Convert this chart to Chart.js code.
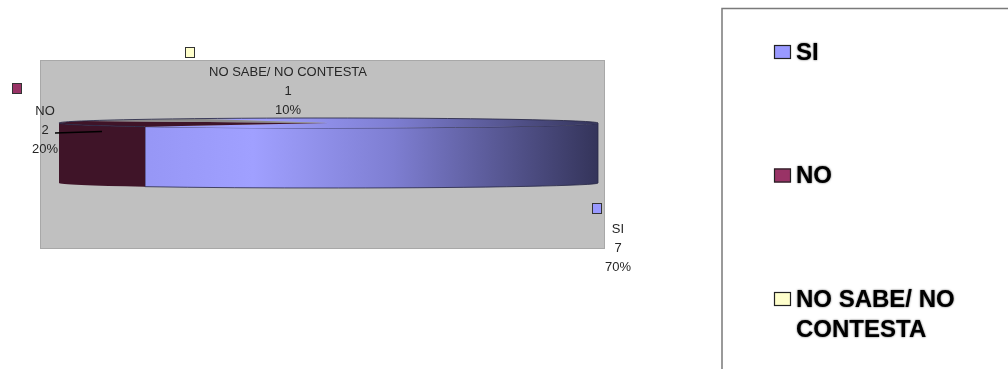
<!DOCTYPE html>
<html>
<head>
<meta charset="utf-8">
<script src="https://cdn.jsdelivr.net/npm/chart.js@4/dist/chart.umd.min.js"></script>
<style>
  html, body { margin: 0; padding: 0; background: #fff; }
  canvas { display: block; }
</style>
</head>
<body>
<canvas id="respuestasChart" width="1008" height="369"></canvas>
<script>
'use strict';

const categories = ['SI', 'NO', 'NO SABE/ NO CONTESTA'];
const answerCounts = [7, 2, 1];
const sliceColors = ['#9999ff', '#993366', '#ffffcc'];

// edge-on 3D pie, geometry of the flattened cylinder
const pie = { cx: 328.5, cy: 123, rx: 269.5, ry: 5, depth: 60 };
const plotBox = { x: 40, y: 60, w: 564, h: 188 };

const labelPos = [{ x: 618, y: 229 }, { x: 45, y: 111 }, { x: 288, y: 72 }];
const markerPos = [{ x: 592, y: 203 }, { x: 12, y: 83 }, { x: 185, y: 47 }];

const TWO_PI = Math.PI * 2;

// part of a slice that faces the viewer (angles between 0 and PI)
function frontRange(arc) {
    let s = arc.startAngle % TWO_PI;
    if (s < 0) s += TWO_PI;
    let e = s + (arc.endAngle - arc.startAngle);
    const parts = [];
    [[0, Math.PI], [TWO_PI, TWO_PI + Math.PI]].forEach(([lo, hi]) => {
        const a = Math.max(s, lo), b = Math.min(e, hi);
        if (b > a) parts.push([a, b]);
    });
    return parts;
}

const flatPie = {
    id: 'flatPie',
    beforeDraw(chart) {
        const ctx = chart.ctx;
        ctx.save();
        ctx.fillStyle = '#c0c0c0';
        ctx.fillRect(plotBox.x, plotBox.y, plotBox.w, plotBox.h);
        ctx.strokeStyle = '#a8a8a8';
        ctx.lineWidth = 1;
        ctx.strokeRect(plotBox.x + 0.5, plotBox.y + 0.5, plotBox.w, plotBox.h);
        ctx.restore();
    },
    beforeDatasetsDraw(chart) {
        const ctx = chart.ctx;
        const arcs = chart.getDatasetMeta(0).data;
        const grad = ctx.createLinearGradient(pie.cx - pie.rx, 0, pie.cx + pie.rx, 0);
        grad.addColorStop(0.0, '#8f8fee');
        grad.addColorStop(0.36, '#a0a0ff');
        grad.addColorStop(0.62, '#7e7ed2');
        grad.addColorStop(1.0, '#34345a');
        const sides = [grad, '#3f1428', '#a8a890'];
        const tops = [grad, '#3f1428', '#8c8c8c'];

        ctx.save();
        // side walls
        arcs.forEach((arc, i) => {
            frontRange(arc).forEach(([a, b]) => {
                ctx.beginPath();
                ctx.ellipse(pie.cx, pie.cy, pie.rx, pie.ry, 0, a, b);
                ctx.ellipse(pie.cx, pie.cy + pie.depth, pie.rx, pie.ry, 0, b, a, true);
                ctx.closePath();
                ctx.fillStyle = sides[i];
                ctx.fill();
                if (i === 0) {
                    ctx.strokeStyle = 'rgba(40,40,70,0.8)';
                    ctx.lineWidth = 1;
                    ctx.stroke();
                }
            });
        });
        // top faces
        arcs.forEach((arc, i) => {
            ctx.beginPath();
            ctx.moveTo(pie.cx, pie.cy);
            ctx.ellipse(pie.cx, pie.cy, pie.rx, pie.ry, 0, arc.startAngle, arc.endAngle);
            ctx.closePath();
            ctx.fillStyle = tops[i];
            ctx.fill();
        });
        ctx.beginPath();
        ctx.ellipse(pie.cx, pie.cy, pie.rx, pie.ry, 0, Math.PI * 0.74, TWO_PI);
        ctx.strokeStyle = 'rgba(40,40,70,0.85)';
        ctx.lineWidth = 1;
        ctx.stroke();
        ctx.restore();

        // data labels with small keys
        const total = answerCounts.reduce((a, b) => a + b, 0);
        ctx.save();
        ctx.font = '13px "Liberation Sans", Arial, sans-serif';
        ctx.textAlign = 'center';
        ctx.textBaseline = 'middle';
        categories.forEach((name, i) => {
            const p = labelPos[i];
            const pct = Math.round(answerCounts[i] / total * 100) + '%';
            ctx.fillStyle = '#262626';
            ctx.fillText(name, p.x, p.y);
            ctx.fillText(String(answerCounts[i]), p.x, p.y + 19.3);
            ctx.fillText(pct, p.x, p.y + 38.6);
            const m = markerPos[i];
            ctx.fillStyle = sliceColors[i];
            ctx.fillRect(m.x, m.y, 10, 11);
            ctx.strokeStyle = '#333';
            ctx.lineWidth = 1;
            ctx.strokeRect(m.x + 0.5, m.y + 0.5, 9, 10);
        });
        // leader line for NO
        ctx.strokeStyle = '#000';
        ctx.lineWidth = 1.5;
        ctx.beginPath();
        ctx.moveTo(55, 133);
        ctx.lineTo(102, 131.5);
        ctx.stroke();
        ctx.restore();
        return false;
    },
    afterDraw(chart) {
        const ctx = chart.ctx;
        ctx.save();
        ctx.strokeStyle = '#7a7a7a';
        ctx.lineWidth = 1.5;
        ctx.beginPath();
        ctx.moveTo(722, 369);
        ctx.lineTo(722, 8.5);
        ctx.lineTo(1008, 8.5);
        ctx.stroke();

        ctx.font = 'bold 24px "Liberation Sans", Arial, sans-serif';
        ctx.textBaseline = 'middle';
        categories.forEach((name, i) => {
            const y = 52 + i * 123.5;
            ctx.shadowColor = 'transparent';
            ctx.fillStyle = sliceColors[i];
            ctx.fillRect(774, y - 7, 17, 14);
            ctx.strokeStyle = '#222';
            ctx.lineWidth = 1.2;
            ctx.strokeRect(774.5, y - 6.5, 16, 13);

            // wrap long names
            const words = name.split(' ');
            const lines = [];
            let line = '';
            words.forEach(w => {
                const t = line ? line + ' ' + w : w;
                if (ctx.measureText(t).width > 175 && line) {
                    lines.push(line);
                    line = w;
                } else {
                    line = t;
                }
            });
            lines.push(line);
            ctx.shadowColor = 'rgba(0,0,0,0.7)';
            ctx.shadowBlur = 2;
            ctx.fillStyle = '#000';
            lines.forEach((l, k) => ctx.fillText(l, 796, y + 1 + k * 30));
        });
        ctx.restore();
    }
};

new Chart(document.querySelector('#respuestasChart'), {
    type: 'pie',
    data: {
        labels: categories,
        datasets: [
            {
                data: answerCounts,
                backgroundColor: sliceColors
            }
        ]
    },
    options: {
        responsive: false,
        animation: false,
        rotation: -29.1,
        layout: { padding: { left: 40, right: 404, top: 60, bottom: 121 } },
        plugins: {
            legend: { display: false },
            tooltip: { enabled: false }
        }
    },
    plugins: [flatPie]
});
</script>
</body>
</html>
